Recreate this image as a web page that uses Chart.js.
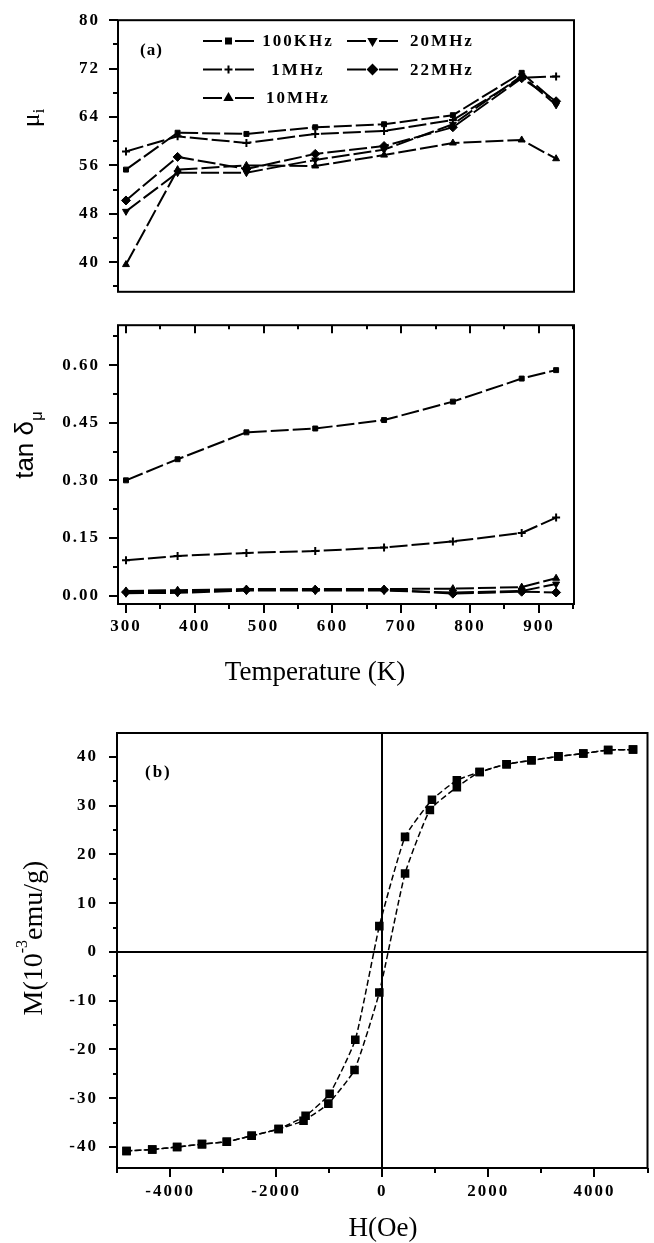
<!DOCTYPE html>
<html><head><meta charset="utf-8">
<script src="https://cdn.jsdelivr.net/npm/chart.js@4.4.1/dist/chart.umd.min.js"></script>
<style>
html,body{margin:0;padding:0;background:#fff;}
body{width:654px;height:1243px;position:relative;overflow:hidden;}
.box{position:absolute;left:0;width:654px;}
</style></head><body>
<div class="box" style="top:0;height:312px"><canvas id="ca1"></canvas></div>
<div class="box" style="top:305px;height:395px"><canvas id="ca2"></canvas></div>
<div class="box" style="top:700px;height:543px"><canvas id="cb"></canvas></div>
<script>
// ---------- data: panel (a) ----------
const temps = [300, 375, 475, 575, 675, 775, 875, 925];
const seriesNames = ['100KHz', '1MHz', '10MHz', '20MHz', '22MHz'];
const mu100K = [55.3, 61.4, 61.2, 62.3, 62.8, 64.3, 71.3, 66.4];
const mu1M   = [58.3, 60.8, 59.7, 61.2, 61.7, 63.5, 70.5, 70.7];
const mu10M  = [39.6, 55.3, 56.0, 55.9, 57.7, 59.7, 60.2, 57.1];
const mu20M  = [48.4, 54.8, 54.8, 56.9, 58.6, 62.8, 70.8, 66.0];
const mu22M  = [50.2, 57.4, 55.4, 57.9, 59.2, 62.3, 70.4, 66.6];
const tan100K = [0.300, 0.355, 0.425, 0.435, 0.457, 0.505, 0.565, 0.587];
const tan1M   = [0.092, 0.103, 0.111, 0.116, 0.125, 0.141, 0.163, 0.203];
const tan10M  = [0.012, 0.014, 0.017, 0.017, 0.017, 0.018, 0.022, 0.045];
const tan20M  = [0.006, 0.007, 0.013, 0.013, 0.013, 0.008, 0.012, 0.030];
const tan22M  = [0.009, 0.010, 0.015, 0.015, 0.015, 0.005, 0.010, 0.008];
const tempTicks = [300, 400, 500, 600, 700, 800, 900];
const muTicks = [40, 48, 56, 64, 72, 80];
const tanTicks = [0, 0.15, 0.30, 0.45, 0.60];
// ---------- data: panel (b) ----------
const hDown = [4727, 4258, 3789, 3320, 2812, 2344, 1836, 1406, 937, 430, -55, -508, -992, -1445, -1953, -2461, -2930, -3398, -3867, -4336, -4820];
const mDown = [41.5, 41.4, 40.7, 40.1, 39.3, 38.5, 36.9, 35.2, 31.2, 23.6, 5.3, -18.0, -29.1, -33.6, -36.3, -37.7, -38.9, -39.4, -40.0, -40.5, -40.8];
const hUp = [-4820, -4336, -3867, -3398, -2930, -2461, -1953, -1484, -1016, -523, -55, 430, 898, 1406, 1836, 2344, 2812, 3320, 3789, 4258, 4727];
const mUp = [-40.8, -40.5, -40.0, -39.4, -38.9, -37.7, -36.3, -34.6, -31.1, -24.2, -8.3, 16.1, 29.1, 33.8, 36.9, 38.5, 39.3, 40.1, 40.7, 41.4, 41.5];
const hTicks = [-4000, -2000, 0, 2000, 4000];
const mTicks = [-40, -30, -20, -10, 0, 10, 20, 30, 40];

// ---------- styles ----------
const markStyles = [
  {style: 'rect', rot: 0, r: 3.5, bw: 1},
  {style: 'cross', rot: 0, r: 4, bw: 2},
  {style: 'triangle', rot: 0, r: 4, bw: 1},
  {style: 'triangle', rot: 180, r: 4, bw: 1},
  {style: 'rectRot', rot: 0, r: 4.5, bw: 1}
];
const tickFont = {family: 'Liberation Serif', weight: 'bold', size: 17};
const midpoints = arr => arr.slice(0, -1).map((v, i) => (v + arr[i + 1]) / 2);

function seriesDatasets(list) {
  return seriesNames.map((name, i) => ({
    label: name,
    data: temps.map((t, j) => ({x: t, y: list[i][j]})),
    borderColor: '#000', backgroundColor: '#000',
    borderWidth: 2, borderDash: [18, 4],
    pointStyle: markStyles[i].style, pointRotation: markStyles[i].rot,
    pointRadius: markStyles[i].r, pointBorderWidth: markStyles[i].bw,
    tension: 0, fill: false
  }));
}

// ---------- plugins ----------
const framePlugin = {
  id: 'frame',
  beforeDraw(chart) { chart.ctx.letterSpacing = '2px'; },
  beforeDatasetsDraw(chart) { chart.ctx.letterSpacing = '0px'; },
  afterDraw(chart) {
    const {ctx, chartArea: a} = chart;
    ctx.save(); ctx.strokeStyle = '#000'; ctx.lineWidth = 2;
    ctx.strokeRect(a.left, a.top, a.right - a.left, a.bottom - a.top);
    ctx.restore();
  }
};
function tickLayer(sets) {
  return {
    id: 'tickMarks',
    afterDraw(chart) {
      const {ctx, chartArea: a} = chart;
      ctx.save(); ctx.strokeStyle = '#000'; ctx.lineWidth = 2;
      sets.forEach(s => {
        const sc = chart.scales[s.axis];
        s.values.forEach(v => {
          if (v < sc.min || v > sc.max) return;
          const p = Math.round(sc.getPixelForValue(v));
          ctx.beginPath();
          if (s.edge === 'left') { ctx.moveTo(a.left, p); ctx.lineTo(a.left - s.len, p); }
          else if (s.edge === 'bottom') { ctx.moveTo(p, a.bottom); ctx.lineTo(p, a.bottom + s.len); }
          else if (s.edge === 'topIn') { ctx.moveTo(p, a.top); ctx.lineTo(p, a.top + s.len); }
          ctx.stroke();
        });
      });
      ctx.restore();
    }
  };
}
function textLayer(items) {
  return {
    id: 'texts',
    afterDraw(chart) {
      const ctx = chart.ctx;
      items.forEach(it => {
        ctx.save();
        ctx.letterSpacing = it.spacing || '0px';
        ctx.fillStyle = '#000';
        ctx.translate(it.x, it.y);
        if (it.rotate) ctx.rotate(-Math.PI / 2);
        ctx.textBaseline = 'alphabetic';
        ctx.textAlign = 'left';
        let total = 0;
        it.parts.forEach(p => { ctx.font = p.font; total += ctx.measureText(p.text).width; });
        let x = it.center ? -total / 2 : 0;
        it.parts.forEach(p => {
          ctx.font = p.font;
          ctx.fillText(p.text, x, p.shift ? p.shift : 0);
          x += ctx.measureText(p.text).width;
        });
        ctx.restore();
      });
    }
  };
}
function legendLayer(cfg) {
  return {
    id: 'boxLegend',
    afterDraw(chart) {
      const ctx = chart.ctx;
      chart.data.datasets.forEach((ds, i) => {
        const c = cfg.cells[i];
        const x0 = cfg.x0 + c[1] * cfg.dx, y = cfg.y0 + c[0] * cfg.dy;
        ctx.save();
        ctx.strokeStyle = '#000'; ctx.fillStyle = '#000'; ctx.lineWidth = 2;
        ctx.beginPath(); ctx.moveTo(x0, y); ctx.lineTo(x0 + 19, y);
        ctx.moveTo(x0 + 32, y); ctx.lineTo(x0 + 51, y); ctx.stroke();
        Chart.helpers.drawPoint(ctx, {pointStyle: ds.pointStyle, radius: ds.pointRadius,
          rotation: ds.pointRotation, borderWidth: ds.pointBorderWidth}, x0 + 25.5, y);
        ctx.font = cfg.font; ctx.textAlign = 'center'; ctx.textBaseline = 'middle';
        ctx.letterSpacing = '2px';
        ctx.fillText(ds.label, x0 + cfg.textCenter + 1, y + 1);
        ctx.restore();
      });
    }
  };
}

// ---------- chart (a) upper: permeability ----------
new Chart(document.getElementById('ca1'), {
  type: 'line',
  data: {datasets: seriesDatasets([mu100K, mu1M, mu10M, mu20M, mu22M])},
  options: {
    responsive: true, maintainAspectRatio: false, animation: false,
    layout: {padding: {top: 17, right: 80, bottom: 1, left: 0}},
    plugins: {legend: {display: false}, tooltip: {enabled: false}},
    scales: {
      x: {type: 'linear', display: false, min: 288.4, max: 951},
      y: {type: 'linear', min: 35.1, max: 80,
          afterFit: s => { s.width = 118; },
          afterBuildTicks: s => { s.ticks = muTicks.map(v => ({value: v})); },
          ticks: {font: tickFont, color: '#000', padding: 10},
          grid: {display: false}, border: {display: false}}
    }
  },
  plugins: [framePlugin,
    tickLayer([{axis: 'y', values: muTicks, len: 9, edge: 'left'},
               {axis: 'y', values: midpoints(muTicks).concat([36]), len: 5, edge: 'left'}]),
    legendLayer({x0: 203, y0: 41, dx: 144, dy: 28.5, textCenter: 94,
                 cells: [[0, 0], [1, 0], [2, 0], [0, 1], [1, 1]],
                 font: 'bold 17px "Liberation Serif"'}),
    textLayer([
      {x: 39, y: 118, rotate: true, center: true, parts: [
        {text: 'μ', font: '26px "Liberation Serif"'},
        {text: 'i', font: '16px "Liberation Serif"', shift: 5}]},
      {x: 140, y: 55, spacing: '1px', parts: [{text: '(a)', font: 'bold 17px "Liberation Serif"'}]}
    ])]
});

// ---------- chart (a) lower: loss tangent ----------
const OFF2 = 305;
new Chart(document.getElementById('ca2'), {
  type: 'line',
  data: {datasets: seriesDatasets([tan100K, tan1M, tan10M, tan20M, tan22M])},
  options: {
    responsive: true, maintainAspectRatio: false, animation: false,
    layout: {padding: {top: 6, right: 80, bottom: 0, left: 0}},
    plugins: {legend: {display: false}, tooltip: {enabled: false}},
    scales: {
      x: {type: 'linear', min: 288.4, max: 951,
          afterFit: s => { s.height = 96; },
          afterBuildTicks: s => { s.ticks = tempTicks.map(v => ({value: v})); },
          ticks: {font: tickFont, color: '#000', padding: 4, maxRotation: 0,
                  callback: v => String(v)},
          grid: {display: false}, border: {display: false}},
      y: {type: 'linear', min: -0.022, max: 0.704,
          afterFit: s => { s.width = 118; },
          afterBuildTicks: s => { s.ticks = tanTicks.map(v => ({value: v})); },
          ticks: {font: tickFont, color: '#000', padding: 10, callback: v => v.toFixed(2)},
          grid: {display: false}, border: {display: false}}
    }
  },
  plugins: [framePlugin,
    tickLayer([{axis: 'y', values: tanTicks, len: 9, edge: 'left'},
               {axis: 'y', values: midpoints(tanTicks).concat([0.675]), len: 5, edge: 'left'},
               {axis: 'x', values: tempTicks, len: 9, edge: 'bottom'},
               {axis: 'x', values: midpoints(tempTicks).concat([950]), len: 5, edge: 'bottom'},
               {axis: 'x', values: tempTicks, len: 8, edge: 'topIn'},
               {axis: 'x', values: midpoints(tempTicks).concat([950]), len: 4, edge: 'topIn'}]),
    textLayer([
      {x: 33, y: 445 - OFF2, rotate: true, center: true, parts: [
        {text: 'tan δ', font: '26px "Liberation Sans"'},
        {text: 'μ', font: '17px "Liberation Sans"', shift: 9}]},
      {x: 315, y: 680 - OFF2, center: true, parts: [
        {text: 'Temperature (K)', font: '27px "Liberation Serif"'}]}
    ])]
});

// ---------- chart (b): hysteresis loop ----------
const OFFB = 700;
const loopStyle = {borderColor: '#000', backgroundColor: '#000', borderWidth: 1.5,
  borderDash: [6, 3], pointStyle: 'rect', pointRadius: 5, tension: 0.15, showLine: true, fill: false};
new Chart(document.getElementById('cb'), {
  type: 'scatter',
  data: {datasets: [
    Object.assign({label: 'descending', data: hDown.map((h, i) => ({x: h, y: mDown[i]}))}, loopStyle),
    Object.assign({label: 'ascending', data: hUp.map((h, i) => ({x: h, y: mUp[i]}))}, loopStyle)
  ]},
  options: {
    responsive: true, maintainAspectRatio: false, animation: false,
    layout: {padding: {top: 33, right: 2, bottom: 0, left: 0}},
    plugins: {legend: {display: false}, tooltip: {enabled: false}},
    scales: {
      x: {type: 'linear', min: -5000, max: 5000,
          afterFit: s => { s.height = 75; },
          afterBuildTicks: s => { s.ticks = hTicks.map(v => ({value: v})); },
          ticks: {font: tickFont, color: '#000', padding: 13, maxRotation: 0, callback: v => String(v)},
          grid: {drawTicks: false, drawOnChartArea: true, lineWidth: 2,
                 color: c => (c.tick && c.tick.value === 0) ? '#000' : 'rgba(0,0,0,0)'},
          border: {display: false}},
      y: {type: 'linear', min: -44.3, max: 44.9,
          afterFit: s => { s.width = 117; },
          afterBuildTicks: s => { s.ticks = mTicks.map(v => ({value: v})); },
          ticks: {font: tickFont, color: '#000', padding: 19, callback: v => String(v)},
          grid: {drawTicks: false, drawOnChartArea: true, lineWidth: 2,
                 color: c => (c.tick && c.tick.value === 0) ? '#000' : 'rgba(0,0,0,0)'},
          border: {display: false}}
    }
  },
  plugins: [framePlugin,
    tickLayer([{axis: 'y', values: mTicks, len: 8, edge: 'left'},
               {axis: 'y', values: midpoints(mTicks).concat([-45, 45]), len: 4, edge: 'left'},
               {axis: 'x', values: hTicks, len: 9, edge: 'bottom'},
               {axis: 'x', values: midpoints(hTicks).concat([-5000, 5000]), len: 5, edge: 'bottom'}]),
    textLayer([
      {x: 42, y: 938 - OFFB, rotate: true, center: true, parts: [
        {text: 'M(10', font: '28px "Liberation Serif"'},
        {text: '-3', font: '16px "Liberation Serif"', shift: -15},
        {text: 'emu/g)', font: '28px "Liberation Serif"'}]},
      {x: 145, y: 777 - OFFB, spacing: '2px', parts: [{text: '(b)', font: 'bold 17px "Liberation Serif"'}]},
      {x: 383, y: 1236 - OFFB, center: true, parts: [
        {text: 'H(Oe)', font: '27px "Liberation Serif"'}]}
    ])]
});
</script>
</body></html>
